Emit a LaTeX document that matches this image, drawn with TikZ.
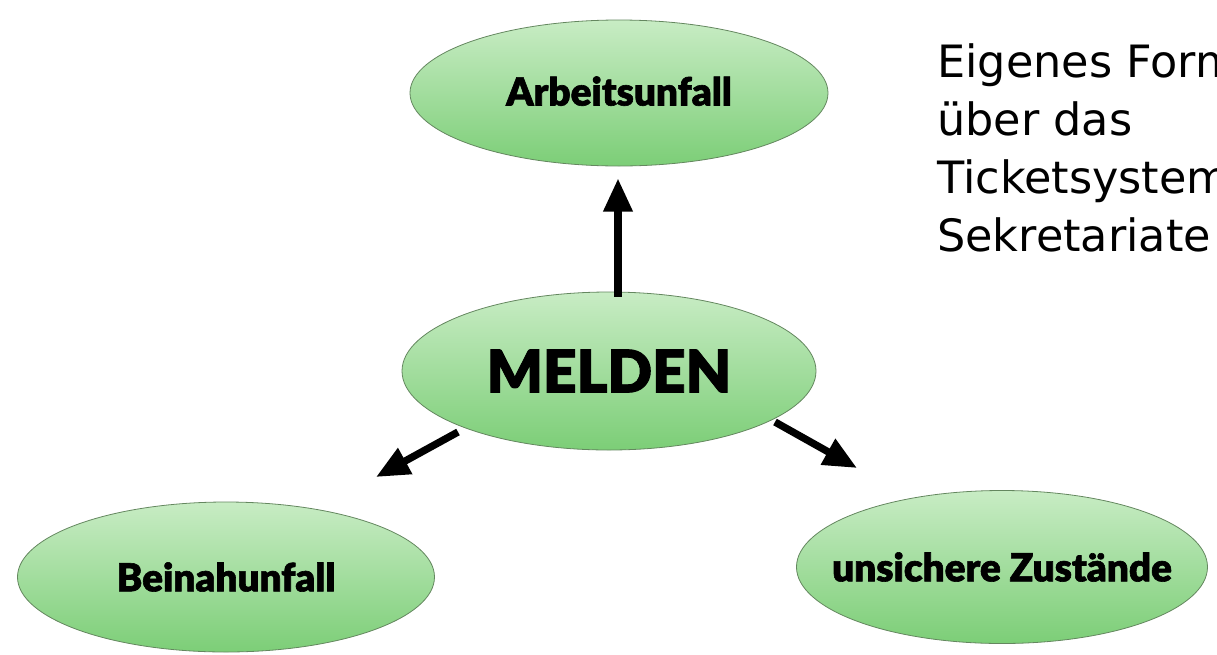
\documentclass[tikz,border=0pt]{standalone}
\usepackage{fontspec}
\usetikzlibrary{shapes.geometric,arrows.meta,calc}
\newfontfamily\heavyfont{Lato}[UprightFont={* Black},BoldFont={* Black},FakeBold=1.6]
\newfontfamily\notefont{DejaVu Sans}
\definecolor{elltop}{RGB}{200,236,196}
\definecolor{ellbot}{RGB}{124,206,119}
\definecolor{ellborder}{RGB}{100,135,95}
\tikzset{
  ellnode/.style={ellipse, draw=ellborder, line width=0.6pt, top color=elltop, bottom color=ellbot, inner sep=0pt, text=black},
  smalllabel/.style={font=\heavyfont\fontsize{29pt}{33pt}\selectfont},
  biglabel/.style={font=\heavyfont\fontsize{44pt}{50pt}\selectfont},
  arr/.style={line width=5.5pt, -{Triangle[length=25pt,width=21pt]}, black}
}
\begin{document}
\begin{tikzpicture}[x=0.75pt,y=-0.75pt]
\useasboundingbox (0,0) rectangle (1217,654);
\node[ellnode, smalllabel, minimum width=313.5pt, minimum height=109.5pt] (arbeit) at (619,93) {\makebox[0pt]{\raisebox{3pt}{Arbeitsunfall}}};
\node[ellnode, biglabel, minimum width=310.5pt, minimum height=118.5pt] (melden) at (609,371) {\makebox[0pt]{MELDEN}};
\node[ellnode, smalllabel, minimum width=312.75pt, minimum height=112.5pt] (bein) at (226,577) {\makebox[0pt]{Beinahunfall}};
\node[ellnode, smalllabel, minimum width=308.25pt, minimum height=114.75pt] (unsich) at (1002,567) {\makebox[0pt]{unsichere Zustände}};
\node[anchor=base west, align=left, inner sep=0pt, font=\notefont\fontsize{33.4pt}{43.5pt}\selectfont] (note) at (937,251) {Eigenes Formular\\über das\\Ticketsystem\\Sekretariate};
\draw[arr] ($(melden.north)+(9,5)$) -- ($(arbeit.south)+(-1,12)$);
\draw[arr] ($(melden)+(-151,61)$) -- ($(bein)+(150,-100)$);
\draw[arr] ($(melden)+(166,51)$) -- ($(unsich)+(-145,-99)$);
\end{tikzpicture}
\end{document}
